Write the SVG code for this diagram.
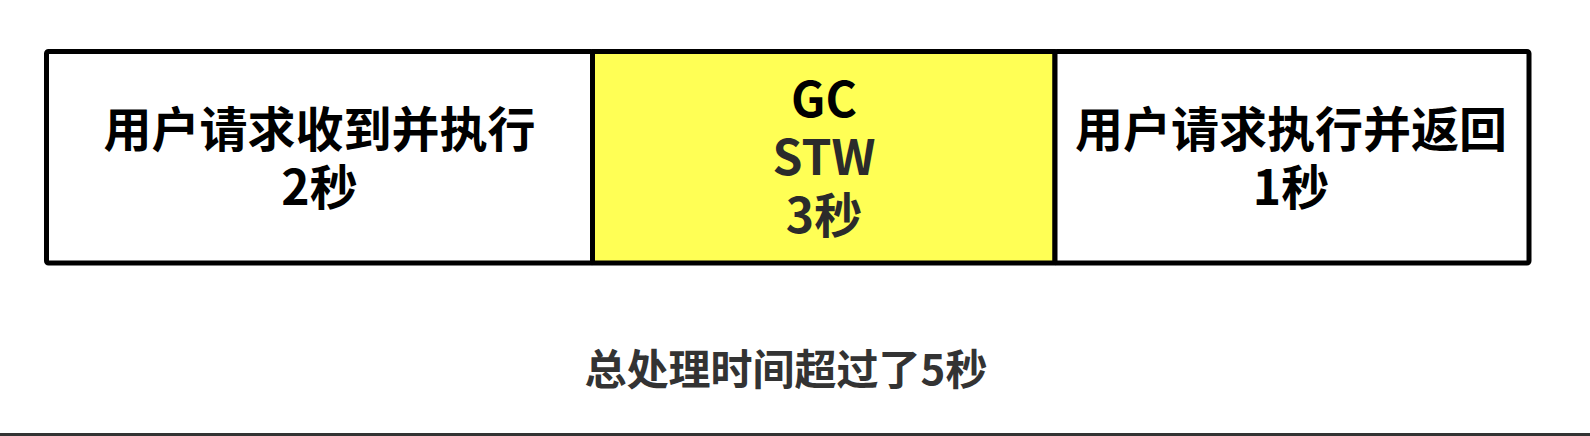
<svg xmlns="http://www.w3.org/2000/svg" width="1590" height="436" viewBox="0 0 1590 436">
  <style>
    .cell { stroke: #000000; stroke-width: 5; stroke-linejoin: round; }
    .t { font-family: "Noto Sans CJK SC", "Noto Sans", sans-serif; font-weight: bold; font-size: 48px; text-anchor: middle; dominant-baseline: central; fill: #000000; }
    .g { fill: #2b2b2b; }
    .sum { font-family: "Noto Sans CJK SC", "Noto Sans", sans-serif; font-weight: bold; font-size: 42px; text-anchor: middle; dominant-baseline: central; fill: #333333; }
  </style>
  <rect x="0" y="0" width="1590" height="436" fill="#ffffff"/>
  <g id="connectors"></g>
  <g id="cell-recv">
    <rect class="cell" x="46.5" y="51.5" width="546" height="211.5" rx="2" fill="#ffffff"/>
    <text class="t" x="319.5" y="126">用户请求收到并执行</text>
    <text class="t" x="319.5" y="184">2秒</text>
  </g>
  <g id="cell-gc">
    <rect class="cell" x="592.5" y="51.5" width="462.5" height="211.5" fill="#ffff55"/>
    <text class="t" x="824" y="96">GC</text>
    <text class="t g" x="824" y="154">STW</text>
    <text class="t g" x="824" y="212">3秒</text>
  </g>
  <g id="cell-return">
    <rect class="cell" x="1055" y="51.5" width="474" height="211.5" rx="2" fill="#ffffff"/>
    <text class="t" x="1291" y="126">用户请求执行并返回</text>
    <text class="t" x="1291" y="184">1秒</text>
  </g>
  <g id="summary">
    <text class="sum" x="786" y="366">总处理时间超过了5秒</text>
  </g>
  <rect x="0" y="433" width="1590" height="3" fill="#333333"/>
</svg>
